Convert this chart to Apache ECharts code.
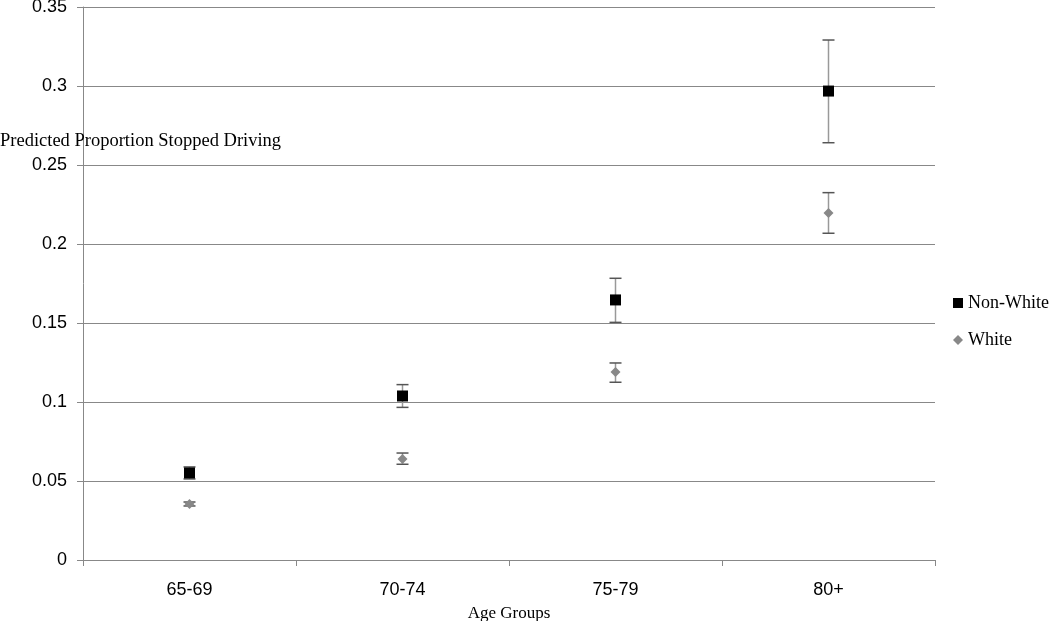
<!DOCTYPE html>
<html>
<head>
<meta charset="utf-8">
<script src="https://cdn.jsdelivr.net/npm/echarts@6/dist/echarts.min.js"></script>
<style>html,body{margin:0;padding:0;background:#fff;}#c{width:1050px;height:621px;}</style>
</head>
<body>
<div id="c"></div>
<script>
var categories = ['65-69', '70-74', '75-79', '80+'];
var nonWhite = [0.0551, 0.1038, 0.1646, 0.2968];
var nonWhiteLow = [0.0513, 0.0966, 0.1504, 0.2641];
var nonWhiteHigh = [0.0589, 0.1110, 0.1783, 0.3291];
var white = [0.0354, 0.0639, 0.1190, 0.2196];
var whiteLow = [0.0342, 0.0606, 0.1125, 0.2068];
var whiteHigh = [0.0367, 0.0677, 0.1247, 0.2325];
var yTicks = [0, 0.05, 0.1, 0.15, 0.2, 0.25, 0.3, 0.35];

function errData(low, high) {
  return categories.map(function (c, i) { return [i, low[i], high[i]]; });
}
function renderErr(params, api) {
  var x = api.value(0);
  var lo = api.coord([x, api.value(1)]);
  var hi = api.coord([x, api.value(2)]);
  var hw = 6;
  return {
    type: 'group',
    children: [
      { type: 'line', shape: { x1: lo[0], y1: lo[1], x2: hi[0], y2: hi[1] }, style: { stroke: '#999', lineWidth: 1.5 } },
      { type: 'line', shape: { x1: hi[0] - hw, y1: hi[1], x2: hi[0] + hw, y2: hi[1] }, style: { stroke: '#555', lineWidth: 1.5 } },
      { type: 'line', shape: { x1: lo[0] - hw, y1: lo[1], x2: lo[0] + hw, y2: lo[1] }, style: { stroke: '#555', lineWidth: 1.5 } }
    ]
  };
}

var chart = echarts.init(document.getElementById('c'));
chart.setOption({
  animation: false,
  backgroundColor: '#fff',
  grid: { left: 83, right: 115, top: 7, bottom: 61, containLabel: false, outerBoundsMode: 'none' },
  legend: {
    orient: 'vertical',
    left: 948,
    top: 289,
    itemGap: 19,
    itemWidth: 10,
    itemHeight: 10,
    textStyle: { fontFamily: 'Liberation Serif', fontSize: 18, color: '#000' },
    data: [
      { name: 'Non-White', icon: 'rect', itemStyle: { color: '#000', opacity: 1 } },
      { name: 'White', icon: 'diamond', itemStyle: { color: '#888', opacity: 1 } }
    ]
  },
  xAxis: {
    type: 'category',
    data: categories,
    boundaryGap: true,
    axisLine: { lineStyle: { color: '#888', width: 1 } },
    axisTick: { show: true, length: 6, lineStyle: { color: '#888' } },
    axisLabel: { fontFamily: 'Liberation Sans', fontSize: 18, color: '#000', margin: 21 },
    name: 'Age Groups',
    nameLocation: 'middle',
    nameGap: 45,
    nameTextStyle: { fontFamily: 'Liberation Serif', fontSize: 17, color: '#000' }
  },
  yAxis: {
    type: 'value',
    min: 0,
    max: 0.35,
    interval: 0.05,
    axisLine: { show: true, lineStyle: { color: '#888', width: 1 } },
    axisTick: { show: true, length: 6, lineStyle: { color: '#888' } },
    axisLabel: {
      fontFamily: 'Liberation Sans', fontSize: 18, color: '#000', margin: 16,
      formatter: function (v) {
        for (var i = 0; i < yTicks.length; i++) { if (Math.abs(yTicks[i] - v) < 1e-9) return String(yTicks[i]); }
        return '';
      }
    },
    splitLine: { show: true, lineStyle: { color: '#888', width: 1 } }
  },
  graphic: [
    { type: 'text', left: 0, top: 132, style: { text: 'Predicted Proportion Stopped Driving', fontFamily: 'Liberation Serif', fontSize: 18.5, fill: '#000' }, z: 100 }
  ],
  series: [
    { type: 'custom', name: 'nwErr', renderItem: renderErr, data: errData(nonWhiteLow, nonWhiteHigh), z: 2, encode: { x: 0, y: [1, 2] } },
    { type: 'custom', name: 'wErr', renderItem: renderErr, data: errData(whiteLow, whiteHigh), z: 2, encode: { x: 0, y: [1, 2] } },
    { type: 'scatter', name: 'Non-White', data: nonWhite, symbol: 'rect', symbolSize: 11, itemStyle: { color: '#000', opacity: 1 }, z: 5 },
    { type: 'scatter', name: 'White', data: white, symbol: 'diamond', symbolSize: 10, itemStyle: { color: '#888', opacity: 1 }, z: 5 }
  ]
});
</script>
</body>
</html>
